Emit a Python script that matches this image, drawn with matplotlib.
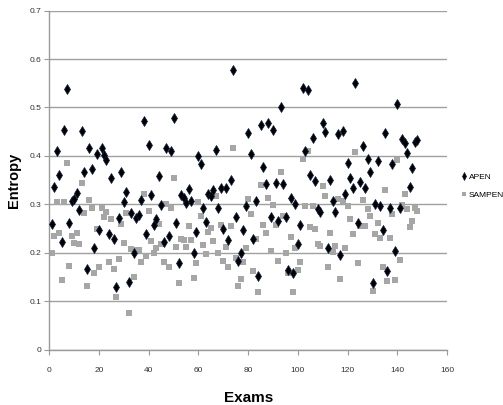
import matplotlib
matplotlib.use("Agg")
import matplotlib.pyplot as plt

plt.rcParams['font.family'] = ['Liberation Sans Narrow', 'Liberation Sans', 'DejaVu Sans']

# exam index 1..148
exams = list(range(1, 149))

apen = [0.260, 0.335, 0.410, 0.361, 0.223, 0.454, 0.539, 0.261, 0.307, 0.311,
        0.324, 0.288, 0.452, 0.366, 0.167, 0.417, 0.374, 0.210, 0.405, 0.247,
        0.417, 0.403, 0.391, 0.239, 0.354, 0.228, 0.129, 0.272, 0.367, 0.305,
        0.326, 0.141, 0.282, 0.200, 0.272, 0.278, 0.309, 0.473, 0.239, 0.422,
        0.320, 0.257, 0.270, 0.359, 0.298, 0.223, 0.417, 0.235, 0.411, 0.478,
        0.262, 0.180, 0.319, 0.313, 0.302, 0.332, 0.307, 0.199, 0.243, 0.399,
        0.383, 0.293, 0.263, 0.322, 0.318, 0.329, 0.412, 0.292, 0.333, 0.249,
        0.333, 0.227, 0.351, 0.577, 0.275, 0.184, 0.200, 0.248, 0.296, 0.448,
        0.405, 0.229, 0.307, 0.153, 0.463, 0.378, 0.342, 0.468, 0.275, 0.454,
        0.344, 0.265, 0.502, 0.342, 0.274, 0.165, 0.314, 0.158, 0.301, 0.218,
        0.258, 0.540, 0.411, 0.536, 0.361, 0.438, 0.348, 0.291, 0.284, 0.469,
        0.450, 0.211, 0.351, 0.307, 0.284, 0.445, 0.196, 0.452, 0.321, 0.385,
        0.354, 0.333, 0.550, 0.261, 0.347, 0.421, 0.334, 0.393, 0.367, 0.137,
        0.301, 0.390, 0.297, 0.247, 0.448, 0.163, 0.293, 0.384, 0.204, 0.507,
        0.293, 0.434, 0.426, 0.407, 0.337, 0.375, 0.428, 0.433]

sampen = [0.199, 0.234, 0.305, 0.241, 0.144, 0.305, 0.385, 0.173, 0.234, 0.221,
          0.242, 0.218, 0.344, 0.283, 0.132, 0.309, 0.293, 0.158, 0.249, 0.172,
          0.293, 0.275, 0.285, 0.181, 0.271, 0.167, 0.109, 0.187, 0.260, 0.221,
          0.282, 0.077, 0.208, 0.151, 0.206, 0.206, 0.182, 0.321, 0.194, 0.287,
          0.225, 0.200, 0.210, 0.260, 0.219, 0.181, 0.301, 0.172, 0.292, 0.355,
          0.213, 0.139, 0.228, 0.227, 0.213, 0.256, 0.227, 0.148, 0.180, 0.306,
          0.276, 0.216, 0.197, 0.244, 0.252, 0.225, 0.318, 0.199, 0.258, 0.184,
          0.213, 0.170, 0.256, 0.417, 0.189, 0.131, 0.147, 0.182, 0.211, 0.311,
          0.280, 0.163, 0.229, 0.120, 0.340, 0.258, 0.241, 0.313, 0.205, 0.299,
          0.258, 0.183, 0.366, 0.276, 0.199, 0.159, 0.232, 0.119, 0.211, 0.164,
          0.181, 0.393, 0.297, 0.410, 0.253, 0.297, 0.249, 0.219, 0.214, 0.338,
          0.318, 0.172, 0.242, 0.201, 0.214, 0.311, 0.146, 0.308, 0.211, 0.297,
          0.270, 0.239, 0.409, 0.180, 0.256, 0.309, 0.256, 0.290, 0.277, 0.122,
          0.239, 0.261, 0.230, 0.170, 0.329, 0.142, 0.230, 0.280, 0.144, 0.392,
          0.186, 0.298, 0.322, 0.290, 0.253, 0.265, 0.293, 0.287]

fig = plt.figure(figsize=(5.03, 4.05), dpi=100)
ax = fig.add_axes([0.098, 0.136, 0.791, 0.838])

ax.plot(exams, apen, linestyle='none', marker='d', markersize=5,
        color='black', markeredgecolor='#0b1a3a', markeredgewidth=0.5,
        label='APEN', zorder=3)
ax.plot(exams, sampen, linestyle='none', marker='s', markersize=4,
        color='#a6a6a6', markeredgewidth=0, label='SAMPEN', zorder=2)

ax.set_xlim(0, 160)
ax.set_ylim(0, 0.7)
ax.set_xticks(range(0, 161, 20))
ax.set_yticks([0, 0.1, 0.2, 0.3, 0.4, 0.5, 0.6, 0.7])
ax.set_yticklabels(['0', '0.1', '0.2', '0.3', '0.4', '0.5', '0.6', '0.7'])
ax.yaxis.grid(True, color='#a0a0a0', linewidth=1)
ax.set_axisbelow(True)

for s in ['top', 'right']:
    ax.spines[s].set_visible(False)
for s in ['left', 'bottom']:
    ax.spines[s].set_color('#9a9a9a')
    ax.spines[s].set_linewidth(1)

ax.tick_params(axis='both', colors='#9a9a9a', labelcolor='#333333',
               labelsize=6, length=3.5, width=0.8)
ax.tick_params(axis='x', pad=9)
ax.tick_params(axis='y', pad=2)

ax.set_xlabel('Exams', fontsize=11, fontweight='bold', labelpad=12)
ax.set_ylabel('Entropy', fontsize=10.5, fontweight='bold', labelpad=6,
              family=['Liberation Sans', 'DejaVu Sans'])

fig.legend(loc='upper left', bbox_to_anchor=(0.918, 0.572), frameon=False,
           fontsize=6, handlelength=0.6, handletextpad=0.25, labelspacing=1.2,
           borderaxespad=0, borderpad=0, markerscale=0.8)

fig.savefig('out.png', dpi=100)
